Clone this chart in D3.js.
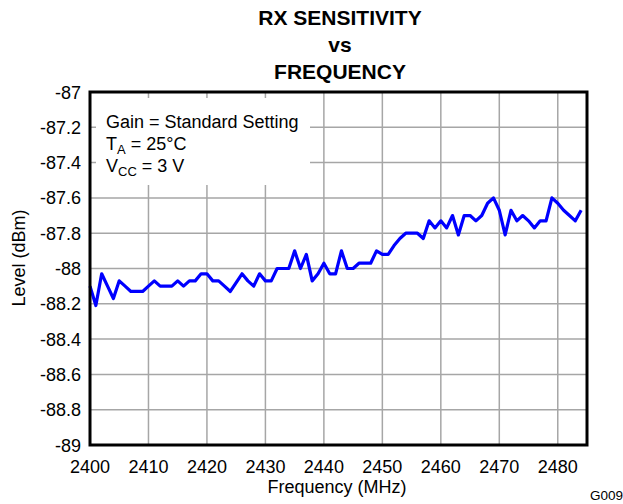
<!DOCTYPE html>
<html>
<head>
<meta charset="utf-8">
<script src="https://cdn.jsdelivr.net/npm/d3@7"></script>
<style>
	body { margin: 0; background: #fff; }
	text { font-family: 'Liberation Sans', Arial, sans-serif; fill: #000; }
</style>
</head>
<body>
<div id="chart"></div>
<script>
// frequency in MHz, one point per MHz
const freqStart = 2400;
const levels = [
	-88.10, -88.21, -88.03, -88.10, -88.17, -88.07, -88.10, -88.13, -88.13, -88.13,
	-88.10, -88.07, -88.10, -88.10, -88.10, -88.07, -88.10, -88.07, -88.07, -88.03,
	-88.03, -88.07, -88.07, -88.10, -88.13, -88.08, -88.03, -88.07, -88.10, -88.03,
	-88.07, -88.07, -88.00, -88.00, -88.00, -87.90, -88.00, -87.92, -88.07, -88.03,
	-87.97, -88.03, -88.03, -87.90, -88.00, -88.00, -87.97, -87.97, -87.97, -87.90,
	-87.92, -87.92, -87.87, -87.83, -87.80, -87.80, -87.80, -87.83, -87.73, -87.77,
	-87.73, -87.77, -87.70, -87.81, -87.70, -87.70, -87.73, -87.70, -87.63, -87.60,
	-87.67, -87.81, -87.67, -87.73, -87.70, -87.73, -87.77, -87.73, -87.73, -87.60,
	-87.63, -87.67, -87.70, -87.73, -87.67
];
const data = levels.map((v, i) => ({ f: freqStart + i, v: v }));

const xTicks = [2400, 2410, 2420, 2430, 2440, 2450, 2460, 2470, 2480];
const yTicks = [-87, -87.2, -87.4, -87.6, -87.8, -88, -88.2, -88.4, -88.6, -88.8, -89];
const titleLines = ['RX SENSITIVITY', 'vs', 'FREQUENCY'];

const width = 623, height = 504;
const margin = { top: 92, right: 36, bottom: 59, left: 90 };
const innerW = width - margin.left - margin.right;
const innerH = height - margin.top - margin.bottom;

const svg = d3.select('#chart').append('svg')
	.attr('width', width)
	.attr('height', height);

const x = d3.scaleLinear().domain([2400, 2485]).range([margin.left, margin.left + innerW]);
const y = d3.scaleLinear().domain([-89, -87]).range([margin.top + innerH, margin.top]);

// grid
const grid = svg.append('g').attr('stroke', '#a6a6a6').attr('stroke-width', 1.5);
grid.selectAll('.vgrid').data(xTicks.slice(1)).enter().append('line')
	.attr('x1', d => x(d)).attr('x2', d => x(d))
	.attr('y1', margin.top).attr('y2', margin.top + innerH);
grid.selectAll('.hgrid').data(yTicks.slice(1, -1)).enter().append('line')
	.attr('x1', margin.left).attr('x2', margin.left + innerW)
	.attr('y1', d => y(d)).attr('y2', d => y(d));

// white box behind the notes
svg.append('rect')
	.attr('x', margin.left + 6).attr('y', margin.top + 6)
	.attr('width', 214).attr('height', 87)
	.attr('fill', '#fff');

// data line
const line = d3.line().x(d => x(d.f)).y(d => y(d.v));
svg.append('path')
	.datum(data)
	.attr('d', line)
	.attr('fill', 'none')
	.attr('stroke', '#0000ff')
	.attr('stroke-width', 3.2)
	.attr('stroke-linejoin', 'round');

// frame
svg.append('rect')
	.attr('x', margin.left).attr('y', margin.top)
	.attr('width', innerW).attr('height', innerH)
	.attr('fill', 'none').attr('stroke', '#000').attr('stroke-width', 3);

// tick labels
svg.selectAll('.xlab').data(xTicks).enter().append('text')
	.attr('x', d => x(d)).attr('y', 473)
	.attr('text-anchor', 'middle').style('font-size', '18px')
	.text(d => d);
svg.selectAll('.ylab').data(yTicks).enter().append('text')
	.attr('x', margin.left - 9).attr('y', d => y(d) + 6.5)
	.attr('text-anchor', 'end').style('font-size', '18px')
	.text(d => String(d));

// axis titles
svg.append('text')
	.attr('x', 337).attr('y', 493)
	.attr('text-anchor', 'middle').style('font-size', '18px')
	.text('Frequency (MHz)');
svg.append('text')
	.attr('transform', 'translate(25, 258) rotate(-90)')
	.attr('text-anchor', 'middle').style('font-size', '18px')
	.text('Level (dBm)');

// title
svg.selectAll('.title').data(titleLines).enter().append('text')
	.attr('x', 340).attr('y', (d, i) => 25 + i * 27)
	.attr('text-anchor', 'middle')
	.style('font-size', '21px').style('font-weight', 'bold')
	.text(d => d);

// notes
const notes = svg.append('g').style('font-size', '18px');
notes.append('text').attr('x', 106).attr('y', 128).text('Gain = Standard Setting');
const t2 = notes.append('text').attr('x', 106).attr('y', 150);
t2.append('tspan').text('T');
t2.append('tspan').attr('dy', 4).style('font-size', '13px').text('A');
t2.append('tspan').attr('dy', -4).text(' = 25°C');
const t3 = notes.append('text').attr('x', 106).attr('y', 172);
t3.append('tspan').text('V');
t3.append('tspan').attr('dy', 4).style('font-size', '13px').text('CC');
t3.append('tspan').attr('dy', -4).text(' = 3 V');

svg.append('text')
	.attr('x', 590).attr('y', 500)
	.style('font-size', '13.5px')
	.text('G009');
</script>
</body>
</html>
